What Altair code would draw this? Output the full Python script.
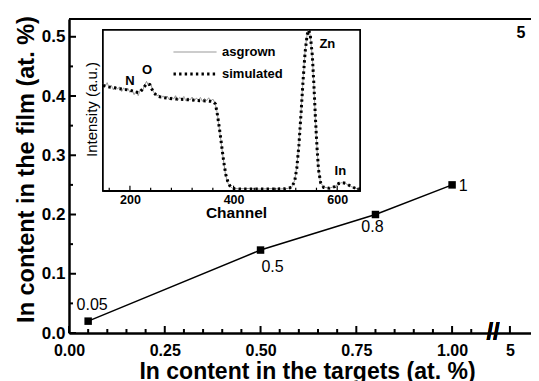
import altair as alt
import pandas as pd

# ---------------- main panel data ----------------
target = [0.05, 0.5, 0.8, 1.0]          # In content in the targets (at. %)
film = [0.02, 0.14, 0.20, 0.25]         # In content in the film (at. %)
point_labels = ["0.05", "0.5", "0.8", "1"]

# broken x axis: value 5 is drawn just after the break
extra_target = 5
extra_label = "5"
extra_label_y = 0.507

x_major = [0.0, 0.25, 0.5, 0.75, 1.0]
x_minor = [0.05, 0.1, 0.15, 0.2, 0.3, 0.35, 0.4, 0.45, 0.55, 0.6, 0.65, 0.7,
           0.8, 0.85, 0.9, 0.95, 1.05]
y_major = [0.0, 0.1, 0.2, 0.3, 0.4, 0.5]
y_minor = [0.05, 0.15, 0.25, 0.35, 0.45]

# ---------------- inset (RBS spectrum) data ----------------
sim_ch = [148, 160, 170, 180, 190, 200, 210, 218, 225, 232, 238, 245, 252, 262, 275,
          290, 305, 320, 335, 350, 360, 365, 369, 373, 377, 381, 385, 390, 395, 402,
          420, 460, 500, 512, 518, 522, 526, 530, 534, 538, 542, 545, 548, 552, 555,
          558, 561, 564, 568, 574, 585, 595, 603, 610, 617, 625, 635, 644]
sim_val = [0.655, 0.645, 0.64, 0.635, 0.63, 0.625, 0.615, 0.61, 0.635, 0.665, 0.66,
           0.615, 0.59, 0.58, 0.575, 0.57, 0.567, 0.565, 0.56, 0.558, 0.555, 0.54,
           0.47, 0.38, 0.28, 0.18, 0.10, 0.045, 0.02, 0.012, 0.01, 0.01, 0.012, 0.02,
           0.06, 0.14, 0.28, 0.47, 0.68, 0.86, 0.97, 1.0, 0.97, 0.84, 0.66, 0.45,
           0.27, 0.13, 0.05, 0.02, 0.015, 0.025, 0.045, 0.05, 0.045, 0.03, 0.015, 0.01]

ag_ch_noisy = [148, 152, 156, 160, 164, 168, 172, 176, 180, 184, 188, 192, 196, 200,
               204, 208, 212, 216, 220, 224, 228, 232, 236, 240, 244, 248, 252, 256,
               260, 264, 268, 272, 276, 280, 284, 288, 292, 296, 300, 304, 308, 312,
               316, 320, 324, 328, 332, 336, 340, 344, 348, 352, 356, 360, 364]
ag_val_noisy = [0.665, 0.648, 0.672, 0.640, 0.655, 0.628, 0.650, 0.633, 0.645, 0.618,
                0.640, 0.622, 0.636, 0.612, 0.630, 0.598, 0.620, 0.592, 0.628, 0.615,
                0.655, 0.680, 0.652, 0.668, 0.622, 0.605, 0.590, 0.596, 0.575, 0.590,
                0.572, 0.588, 0.566, 0.584, 0.570, 0.591, 0.562, 0.580, 0.568, 0.586,
                0.560, 0.578, 0.564, 0.583, 0.558, 0.576, 0.565, 0.580, 0.556, 0.574,
                0.561, 0.578, 0.557, 0.570, 0.548]
ag_ch_tail = [368, 372, 376, 380, 384, 388, 392, 398, 410, 430, 450, 470, 490, 505,
              512, 518, 522, 526, 530, 534, 538, 542, 545, 548, 552, 555, 558, 561,
              564, 568, 574, 585, 595, 603, 610, 617, 625, 635, 644]
ag_val_tail = [0.49, 0.40, 0.30, 0.20, 0.11, 0.055, 0.03, 0.015, 0.012, 0.014, 0.010,
               0.013, 0.011, 0.014, 0.02, 0.065, 0.15, 0.29, 0.48, 0.69, 0.87, 0.975,
               1.0, 0.965, 0.83, 0.65, 0.44, 0.26, 0.125, 0.05, 0.022, 0.016, 0.026,
               0.043, 0.052, 0.044, 0.029, 0.014, 0.01]

series_names = ["asgrown", "simulated"]

peak_names = ["N", "O", "Zn", "In"]
peak_ch = [200, 233, 581, 606]
peak_y = [0.68, 0.75, 0.91, 0.12]

inset_major = [200, 400, 600]
inset_minor = [160, 240, 280, 320, 360, 440, 480, 520, 560, 640]

# ---------------- geometry / style ----------------
FONT = "Liberation Sans"
W, H = 462, 314
X_DOMAIN = [0, 1.206]
Y_DOMAIN = [0, 0.53]
BREAK_POS = 1.107      # axis position of the "//" break
FIVE_POS = 1.151       # axis position standing for the value 5

# tick lengths (pixels) converted to data units of each scale
PX_X = (X_DOMAIN[1] - X_DOMAIN[0]) / W
PX_Y = (Y_DOMAIN[1] - Y_DOMAIN[0]) / H
MAJ, MIN = 7, 4


def axis_pos(v):
    return v if v <= 1.1 else FIVE_POS


main_df = pd.DataFrame({"pos": [axis_pos(v) for v in target], "film": film,
                        "label": point_labels})
extra_df = pd.DataFrame({"pos": [axis_pos(extra_target)], "film": [extra_label_y],
                         "label": [extra_label]})
xt_df = pd.DataFrame({"pos": [axis_pos(v) for v in x_major + [extra_target]] + x_minor,
                      "len": [MAJ * PX_Y] * 6 + [MIN * PX_Y] * len(x_minor)})
xt_df["zero"] = 0.0
yt_df = pd.DataFrame({"v": y_major + y_minor,
                      "len": [MAJ * PX_X] * len(y_major) + [MIN * PX_X] * len(y_minor)})
yt_df["zero"] = 0.0

xscale = alt.Scale(domain=X_DOMAIN, nice=False, zero=False)
yscale = alt.Scale(domain=Y_DOMAIN, nice=False, zero=False)

xaxis = alt.Axis(values=[axis_pos(v) for v in x_major + [extra_target]],
                 labelExpr="datum.value > 1.1 ? '5' : format(datum.value, '.2f')",
                 ticks=False, tickSize=0, grid=False, domainColor="black", domainWidth=2.5,
                 labelFontSize=16, labelFontWeight="bold", labelPadding=9, labelColor="black",
                 labelFlush=False,
                 title="In content in the targets (at. %)", titleFontSize=23,
                 titleFontWeight="bold", titleColor="black", titleX=238, titleY=45,
                 titleBaseline="alphabetic", titleAlign="center")
yaxis = alt.Axis(values=y_major, format=".1f", ticks=False, tickSize=0, grid=False,
                 domainColor="black", domainWidth=2.5, labelFontSize=17,
                 labelFontWeight="bold", labelPadding=4, labelColor="black",
                 labelFlush=False,
                 title="In content in the film (at. %)", titleFontSize=23.5,
                 titleFontWeight="bold", titleColor="black", titleX=-36, titleY=150,
                 titleBaseline="alphabetic", titleAlign="center", titleAngle=270)

base_line = alt.Chart(main_df).mark_line(color="black", strokeWidth=1.5).encode(
    x=alt.X("pos:Q", scale=xscale, axis=xaxis),
    y=alt.Y("film:Q", scale=yscale, axis=yaxis),
)
pts = alt.Chart(main_df).mark_square(size=56, color="black", opacity=1).encode(
    x="pos:Q", y="film:Q")

label_offsets = {"0.05": (4, -16), "0.5": (12, 17), "0.8": (-3, 12), "1": (11, 1)}
label_layers = []
for lab, (dx, dy) in label_offsets.items():
    label_layers.append(
        alt.Chart(main_df).transform_filter(alt.datum.label == lab)
        .mark_text(fontSize=16, color="black", dx=dx, dy=dy, align="center",
                   baseline="middle")
        .encode(x="pos:Q", y="film:Q", text="label:N"))
extra_text = alt.Chart(extra_df).mark_text(fontSize=16, fontWeight="bold", color="black",
                                           dx=11, align="center", baseline="middle").encode(
    x="pos:Q", y="film:Q", text="label:N")

top_rule = alt.Chart(main_df).mark_rule(color="black", strokeWidth=2).encode(
    y=alt.datum(Y_DOMAIN[1]))

x_ticks = alt.Chart(xt_df).mark_rule(color="black", strokeWidth=2).encode(
    x="pos:Q", y="zero:Q", y2="len:Q")
y_ticks = alt.Chart(yt_df).mark_rule(color="black", strokeWidth=2).encode(
    y="v:Q", x="zero:Q", x2="len:Q")
break_mark = alt.Chart(main_df).mark_text(text="//", fontSize=24, fontWeight="bold",
                                          color="black", baseline="middle",
                                          align="center").encode(
    x=alt.datum(BREAK_POS), y=alt.datum(0))

main = alt.layer(top_rule, base_line, pts, *label_layers, extra_text, x_ticks, y_ticks,
                 break_mark)

# ---------------- inset ----------------
spec_df = pd.concat([
    pd.DataFrame({"ch": ag_ch_noisy + ag_ch_tail, "inten": ag_val_noisy + ag_val_tail,
                  "series": series_names[0]}),
    pd.DataFrame({"ch": sim_ch, "inten": sim_val, "series": series_names[1]}),
])
peaks_df = pd.DataFrame({"ch": peak_ch, "inten": peak_y, "name": peak_names})

IN_LEFT, IN_RIGHT = 34, 291      # inset box in plot pixels
IN_BOTTOM, IN_TOP = 171.7, 11
IN_PX_Y = 1.0 / (IN_BOTTOM - IN_TOP)
it_df = pd.DataFrame({"ch": inset_major + inset_minor,
                      "len": [5 * IN_PX_Y] * len(inset_major)
                      + [3 * IN_PX_Y] * len(inset_minor)})
it_df["zero"] = 0.0

ix_scale = alt.Scale(domain=[148, 644], range=[IN_LEFT, IN_RIGHT], nice=False, zero=False)
iy_scale = alt.Scale(domain=[0, 1], range=[IN_BOTTOM, IN_TOP], nice=False, zero=False)

ixaxis = alt.Axis(orient="bottom", offset=-(H - IN_BOTTOM), values=inset_major,
                  ticks=False, tickSize=0, grid=False, domainColor="black", domainWidth=1.5,
                  labelFontSize=12.5, labelFontWeight="bold", labelPadding=3,
                  labelColor="black", labelFlush=False, title="Channel", titleFontSize=15.5,
                  titleFontWeight="bold", titleColor="black", titleX=167,
                  titleY=27, titleBaseline="alphabetic", titleAlign="center")
iyaxis = alt.Axis(orient="left", offset=-IN_LEFT, labels=False, ticks=False, tickSize=0,
                  grid=False, domainColor="black", domainWidth=1.5,
                  title="Intensity (a.u.)", titleFontSize=15, titleFontWeight="normal",
                  titleColor="black", titleX=-7, titleY=90, titleBaseline="alphabetic",
                  titleAlign="center", titleAngle=270)

leg = alt.Legend(title=None, orient="none", legendX=103, legendY=26.5, symbolType="stroke",
                 symbolSize=1849, clipHeight=13, labelFontSize=13, labelFontWeight="bold",
                 labelColor="black", rowPadding=8, padding=0, labelOffset=4)

inset_box = alt.Chart(peaks_df).mark_rect(fill="white", stroke="black",
                                          strokeWidth=1.5).encode(
    x=alt.datum(148), x2=alt.datum(644), y=alt.datum(0), y2=alt.datum(1))
spectra = alt.Chart(spec_df).mark_line(strokeCap="butt").encode(
    x=alt.X("ch:Q", scale=ix_scale, axis=ixaxis),
    y=alt.Y("inten:Q", scale=iy_scale, axis=iyaxis),
    color=alt.Color("series:N", scale=alt.Scale(domain=series_names,
                                                range=["#8a8a8a", "black"]), legend=leg),
    strokeDash=alt.StrokeDash("series:N", scale=alt.Scale(domain=series_names,
                                                          range=[[1, 0], [2.4, 3.2]]),
                              legend=leg),
    strokeWidth=alt.StrokeWidth("series:N", scale=alt.Scale(domain=series_names,
                                                            range=[1, 3]), legend=leg),
    order=alt.Order("ch:Q"),
    detail="series:N",
)
inset_ticks = alt.Chart(it_df).mark_rule(color="black", strokeWidth=1.2).encode(
    x="ch:Q", y="zero:Q", y2="len:Q")
peak_text = alt.Chart(peaks_df).mark_text(fontSize=13, fontWeight="bold", color="black",
                                          align="center", baseline="middle").encode(
    x="ch:Q", y="inten:Q", text="name:N")

inset = alt.layer(inset_box, spectra, inset_ticks, peak_text)

chart = alt.layer(main, inset).resolve_scale(
    x="independent", y="independent"
).properties(
    width=W, height=H,
    autosize=alt.AutoSizeParams(type="none"),
    padding={"left": 61, "top": 11, "right": 0, "bottom": 48},
).configure(font=FONT).configure_view(stroke=None)

chart.save("out.html", embed_options={"renderer": "svg", "actions": False})
